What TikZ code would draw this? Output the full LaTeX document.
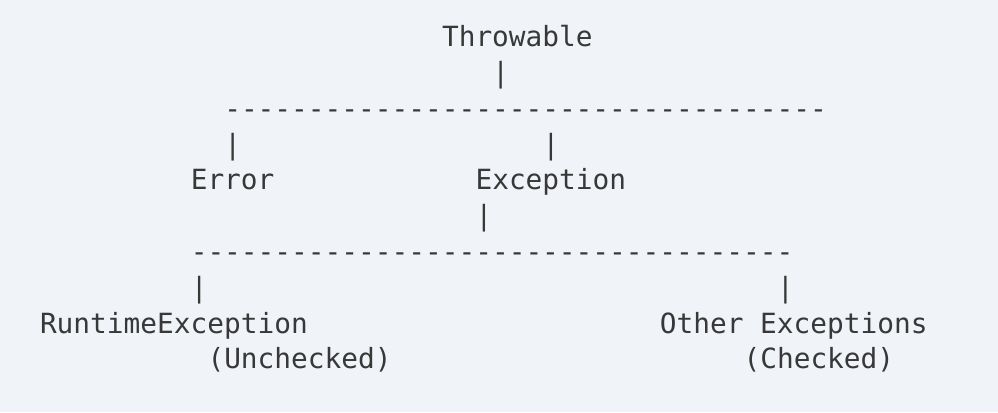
\documentclass[tikz,border=0pt]{standalone}
\usepackage{fontspec}
\setmonofont{DejaVu Sans Mono}
\usepackage{tikz}
\definecolor{pagebg}{HTML}{F0F3F8}
\definecolor{ink}{HTML}{383838}
\tikzset{
  asc/.style={anchor=base west, inner sep=0pt, outer sep=0pt, text=ink,
    font=\ttfamily\fontsize{13.9pt}{17.9pt}\selectfont}
}
\newcommand{\dashrow}{------------------------------------}

\begin{document}
\begin{tikzpicture}[x=8.375pt, y=-17.9pt]

\fill [pagebg] (-2.388,-1.304) rectangle (57.19,10.204);
\useasboundingbox (-2.388,-1.304) rectangle (57.19,10.204);

% top level
\node [asc] (throwable) at (24,0) {Throwable};
\node [asc] (bar1) at (27,1) {|};
\node [asc] (dash1) at (11,2) {\dashrow};
\node [asc] (bar2) at (11,3) {|};
\node [asc] (bar3) at (30,3) {|};

% second level
\node [asc] (error) at (9,4) {Error};
\node [asc] (exception) at (26,4) {Exception};
\node [asc] (bar4) at (26,5) {|};
\node [asc] (dash2) at (9,6) {\dashrow};
\node [asc] (bar5) at (9,7) {|};
\node [asc] (bar6) at (44,7) {|};

% leaves
\node [asc] (runtime) at (0,8) {RuntimeException};
\node [asc] (unchecked) at (10,9) {(Unchecked)};
\node [asc] (other) at (37,8) {Other Exceptions};
\node [asc] (checked) at (42,9) {(Checked)};

\end{tikzpicture}
\end{document}
